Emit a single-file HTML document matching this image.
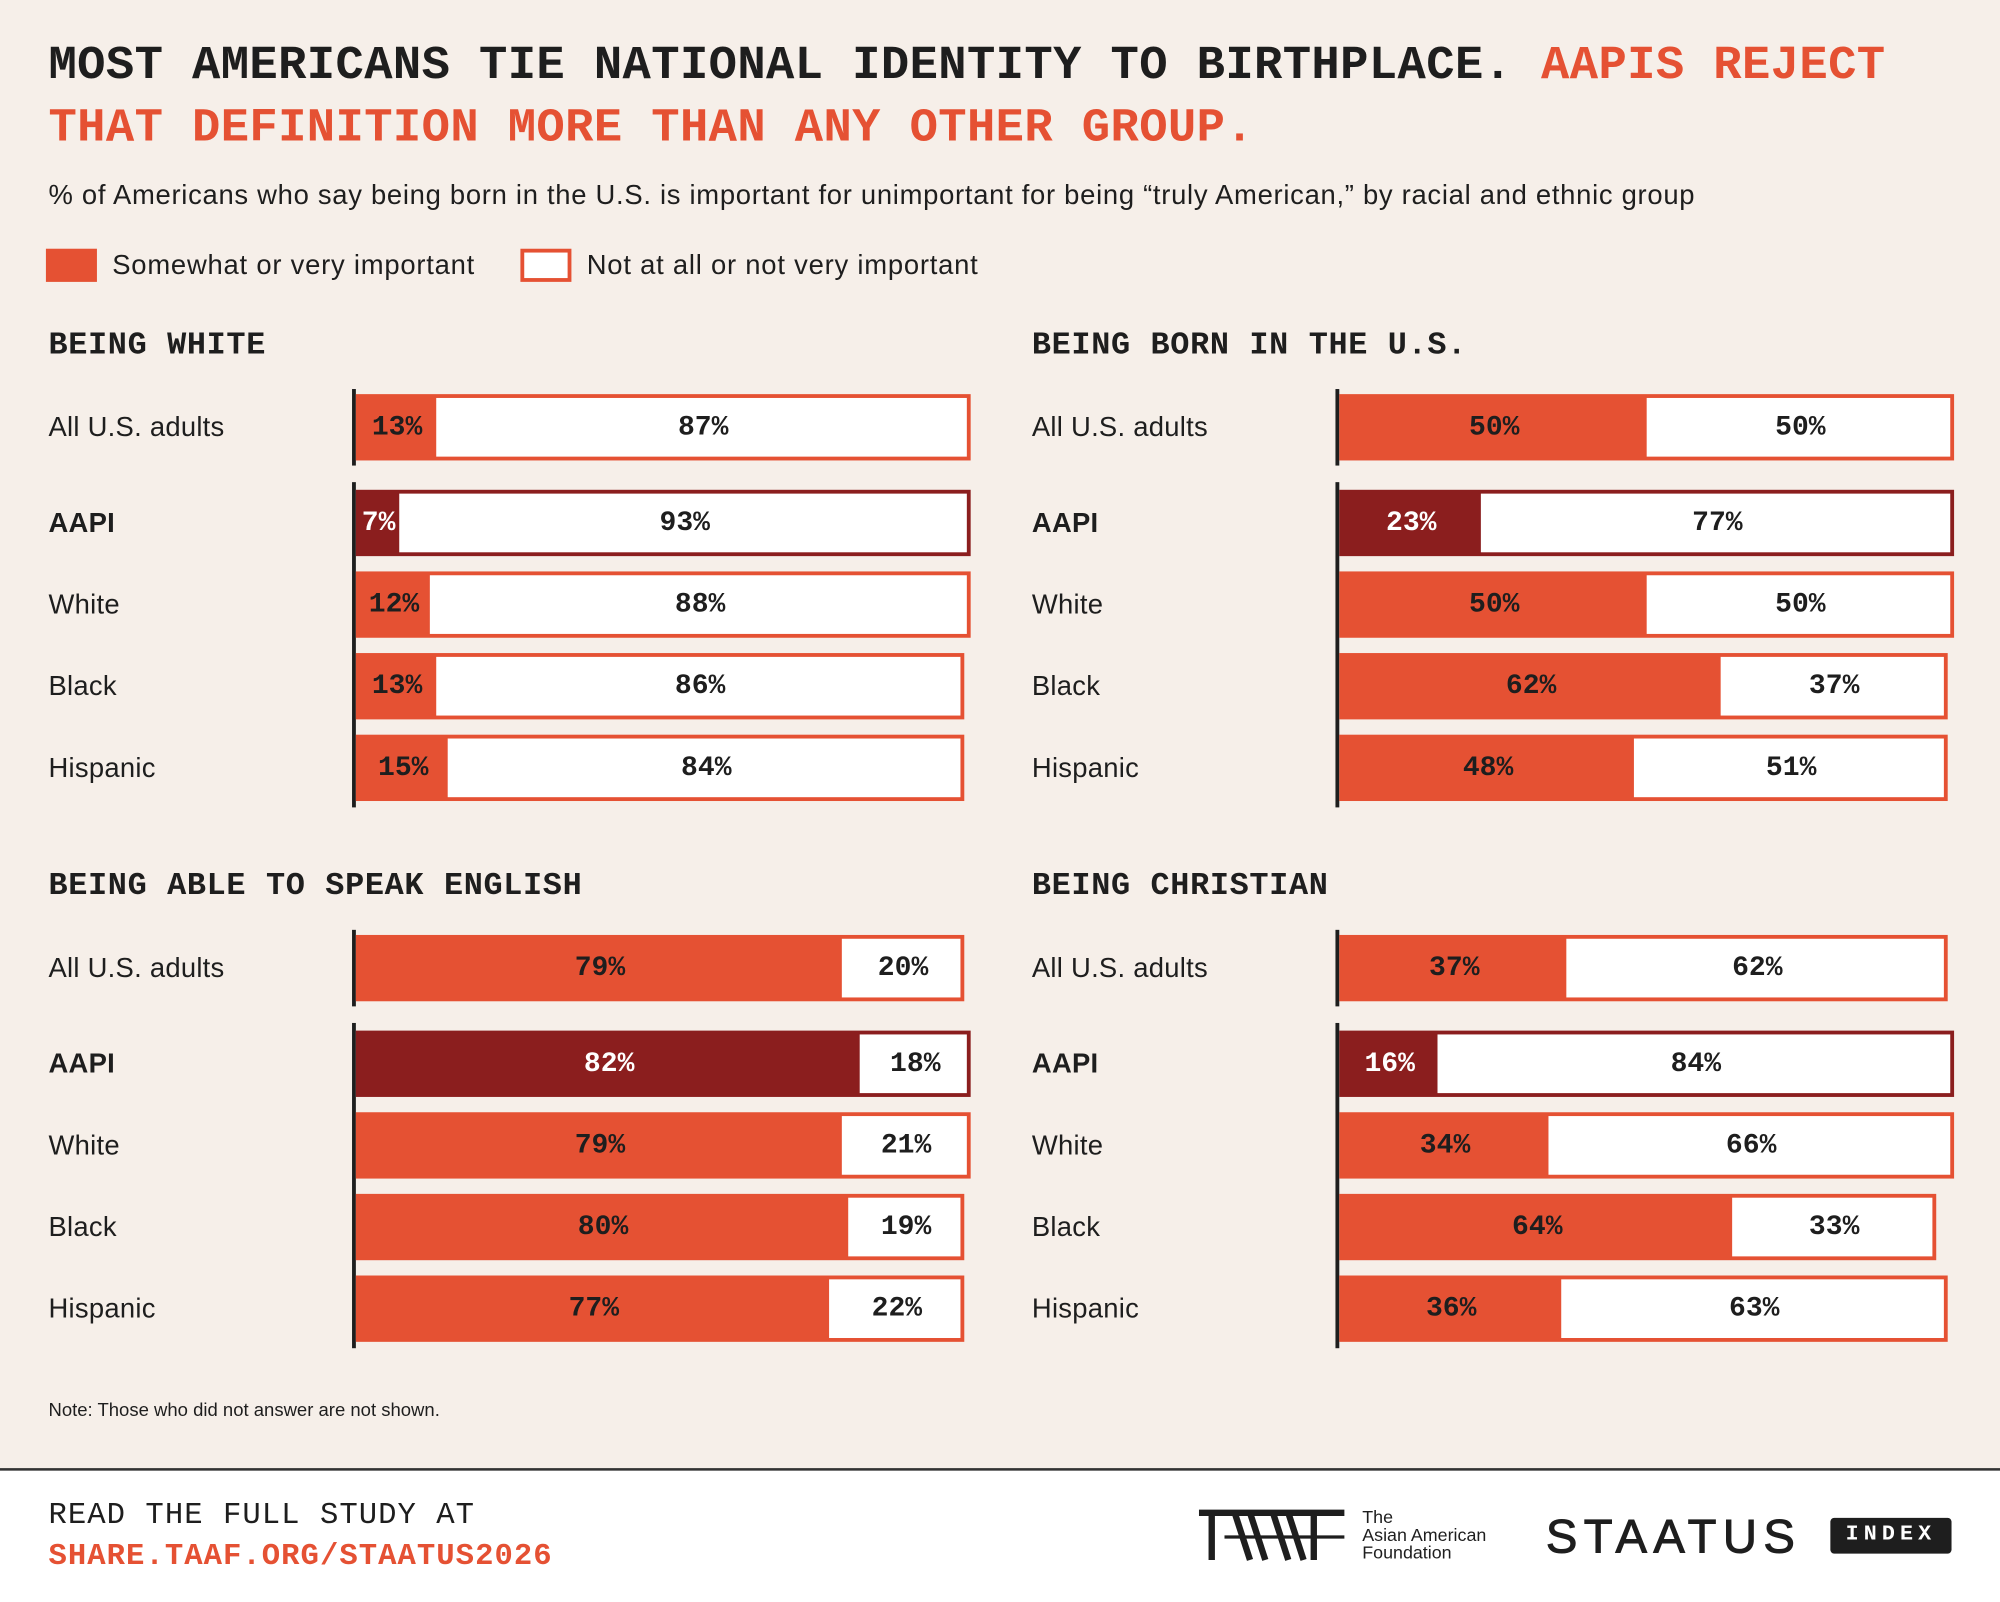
<!DOCTYPE html>
<html><head><meta charset="utf-8">
<style>
html,body{margin:0;padding:0;width:2000px;height:1600px;overflow:hidden;background:#f6efe9;}
#wrap{position:absolute;left:0;top:0;width:1568px;height:1254px;transform:scale(1.27551);transform-origin:0 0;background:#f6efe9;font-family:"Liberation Sans",sans-serif;color:#1e1e1e;}
.mono{font-family:"Liberation Mono",monospace;}
.abs{position:absolute;white-space:nowrap;}
.title{font-family:"Liberation Mono",monospace;font-size:37px;font-weight:bold;letter-spacing:0.3px;left:38px;}
.ph{font-family:"Liberation Mono",monospace;font-size:25px;font-weight:bold;letter-spacing:0.5px;}
.lbl{font-size:21.5px;letter-spacing:0.2px;}
.val{font-family:"Liberation Mono",monospace;font-size:22px;font-weight:bold;position:absolute;transform:translate(-50%,-50%);white-space:nowrap;}
</style></head><body>
<div id="wrap">
<div class="abs title" style="top:31px;">MOST AMERICANS TIE NATIONAL IDENTITY TO BIRTHPLACE. <span style="color:#e55133">AAPIS REJECT</span></div>
<div class="abs title" style="top:80px;color:#e55133;">THAT DEFINITION MORE THAN ANY OTHER GROUP.</div>
<div class="abs" style="left:38px;top:141px;font-size:21.5px;letter-spacing:0.55px;">% of Americans who say being born in the U.S. is important for unimportant for being “truly American,” by racial and ethnic group</div>
<div class="abs" style="left:36px;top:195px;width:40px;height:26px;background:#e55133;"></div>
<div class="abs" style="left:88px;top:196px;font-size:21.5px;letter-spacing:0.6px;">Somewhat or very important</div>
<div class="abs" style="left:408px;top:195px;width:34px;height:20px;background:#fff;border:3px solid #e55133;"></div>
<div class="abs" style="left:460px;top:196px;font-size:21.5px;letter-spacing:0.6px;">Not at all or not very important</div>

<div id="panels"></div>

<div class="abs" style="left:38px;top:1098px;font-size:14.5px;">Note: Those who did not answer are not shown.</div>

<div class="abs" style="left:0;top:1151px;width:1568px;height:103px;background:#fff;border-top:2px solid #333;"></div>
<div class="abs mono" style="left:38px;top:1175px;font-size:24px;letter-spacing:0.8px;">READ THE FULL STUDY AT</div>
<div class="abs mono" style="left:38px;top:1207px;font-size:24px;font-weight:bold;color:#e55133;letter-spacing:0.8px;">SHARE.TAAF.ORG/STAATUS2026</div>
<svg class="abs" style="left:938px;top:1183px;" width="120" height="42">
<g stroke="#1e1e1e" stroke-width="5" fill="none">
<line x1="2" y1="3" x2="116" y2="3"/><line x1="12" y1="3" x2="12" y2="40"/>
<line x1="30" y1="3" x2="42" y2="40"/><line x1="42" y1="3" x2="54" y2="40"/><line x1="60" y1="3" x2="72" y2="40"/><line x1="72" y1="3" x2="84" y2="40"/>
<line x1="92" y1="3" x2="92" y2="40"/><line x1="22" y1="22" x2="116" y2="22" stroke-width="2.5"/>
</g></svg>
<div class="abs" style="left:1068px;top:1182px;font-size:14px;line-height:14px;">The<br>Asian American<br>Foundation</div>
<div class="abs" style="left:1212px;top:1184px;font-size:37px;letter-spacing:5px;-webkit-text-stroke:0.8px #1e1e1e;">STAATUS</div>
<div class="abs mono" style="left:1435px;top:1190px;width:95px;height:28px;background:#1e1e1e;color:#fff;border-radius:3px;font-size:17px;font-weight:bold;letter-spacing:4px;text-align:center;line-height:28px;">INDEX</div>
</div>
<script>
const groups = ["All U.S. adults","AAPI","White","Black","Hispanic"];
const panelTitles = ["BEING WHITE","BEING BORN IN THE U.S.","BEING ABLE TO SPEAK ENGLISH","BEING CHRISTIAN"];
const importantWhite = [13,7,12,13,15];
const notImportantWhite = [87,93,88,86,84];
const importantBorn = [50,23,50,62,48];
const notImportantBorn = [50,77,50,37,51];
const importantEnglish = [79,82,79,80,77];
const notImportantEnglish = [20,18,21,19,22];
const importantChristian = [37,16,34,64,36];
const notImportantChristian = [62,84,66,33,63];

const importantSeries = [importantWhite,importantBorn,importantEnglish,importantChristian];
const notSeries = [notImportantWhite,notImportantBorn,notImportantEnglish,notImportantChristian];
const panelsEl = document.getElementById('panels');
const panelX = [38,809];
const panelY = [258,682];
const scaleX = v => v*4.82;
function mk(cls, style, parent){const d=document.createElement('div');d.className=cls;d.setAttribute('style',style);(parent||panelsEl).appendChild(d);return d;}
for(let p=0;p<4;p++){
  const px=panelX[p%2], py=panelY[Math.floor(p/2)];
  const axisX = px+239;
  const t=mk('abs ph',`left:${px}px;top:${py-2}px;`);
  t.textContent=panelTitles[p];
  
  
  const ax1=mk('abs',`left:${axisX-1}px;top:${py+47}px;width:3px;height:60px;background:#1e1e1e;`);
  
  
  const ax2=mk('abs',`left:${axisX-1}px;top:${py+120}px;width:3px;height:255px;background:#1e1e1e;`);
  
  
  const rowC=[77,152,216,280,344];
  for(let r=0;r<5;r++){
    const cy=py+rowC[r];
    const a=importantSeries[p][r], b=notSeries[p][r];
    const col = r===1?'#8b1e1e':'#e55133';
    const l=mk('abs lbl',`left:${px}px;top:${cy-12}px;${r===1?'font-weight:bold;':''}`);
    l.textContent=groups[r];
    
    
    const x0=axisX+2, w=scaleX(a+b), wa=scaleX(a);
    const bar=mk('abs',`left:${x0}px;top:${cy-26}px;width:${w}px;height:52px;background:${col};`);
    
    
    const wb=mk('abs',`left:${x0+wa}px;top:${cy-23}px;width:${Math.max(0,scaleX(b)-3)}px;height:46px;background:#fff;`);
    
    
    const v1=mk('val',`left:${x0+wa/2+1}px;top:${cy}px;color:${r===1?'#fff':'#1e1e1e'};`);
    v1.textContent=a+'%';
    
    
    const v2=mk('val',`left:${x0+wa+scaleX(b)/2}px;top:${cy}px;color:#1e1e1e;`);
    v2.textContent=b+'%';
    
    
  }
}
</script>
</body></html>
